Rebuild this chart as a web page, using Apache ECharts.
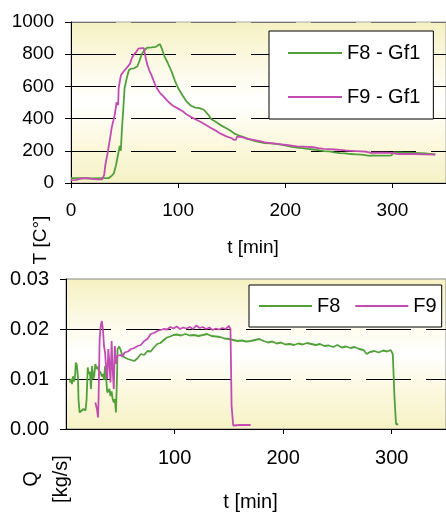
<!DOCTYPE html>
<html>
<head>
<meta charset="utf-8">
<script src="https://cdn.jsdelivr.net/npm/echarts@6/dist/echarts.min.js"></script>
<style>
  html, body { margin: 0; padding: 0; background: #fff; }
  #chart { width: 446px; height: 513px; }
</style>
</head>
<body>
<div id="chart"></div>
<script>
// temperature curves, t [min] / T [C°]
var tF8 = [0, 10, 20, 30, 35, 38, 40, 42, 44, 45.5, 46.5, 47.5, 49, 50, 52, 54, 56, 59, 62, 64, 66, 68, 71, 75, 79, 81, 83, 84.5, 87, 90, 94, 97, 100, 104, 108, 112, 116, 120, 124, 128, 131, 135, 140, 145, 149, 153, 157, 161, 166, 171, 176, 181, 186, 191, 196, 201, 206, 211, 216, 221, 226, 231, 236, 241, 246, 251, 256, 261, 266, 271, 276, 279, 281, 286, 291, 296, 299, 301, 306, 311, 316, 321, 326, 331, 336, 340]
var TF8 = [30, 30, 28, 30, 30, 45, 60, 110, 180, 230, 200, 330, 480, 590, 650, 700, 710, 712, 725, 760, 800, 820, 840, 842, 845, 855, 862, 840, 790, 750, 690, 635, 590, 545, 505, 480, 468, 465, 455, 425, 396, 380, 358, 340, 324, 305, 295, 285, 272, 262, 254, 248, 246, 243, 238, 232, 224, 220, 216, 212, 208, 204, 198, 196, 190, 186, 184, 180, 178, 176, 172, 168, 171, 170, 170, 170, 171, 190, 190, 189, 188, 187, 186, 184, 180, 178]
var tF9 = [0, 5, 10, 15, 20, 25, 29, 31, 32, 34, 35, 37, 38, 40, 41, 42.5, 43.5, 44, 44.5, 46, 47, 50, 52, 55, 57, 59, 61, 63, 66, 68, 69, 71, 73, 75, 78, 80, 83, 86, 90, 95, 100, 104, 108, 113, 118, 122, 126, 131, 136, 140, 145, 150, 152, 154, 155, 160, 164, 170, 176, 181, 186, 191, 196, 201, 206, 211, 216, 221, 226, 231, 236, 241, 246, 251, 256, 261, 266, 271, 276, 279, 286, 296, 301, 305, 311, 320, 330, 340]
var TF9 = [18, 20, 28, 30, 25, 22, 22, 50, 110, 180, 220, 300, 345, 400, 430, 500, 510, 485, 590, 650, 675, 700, 715, 740, 780, 800, 815, 835, 838, 838, 800, 740, 700, 672, 620, 590, 560, 540, 510, 480, 462, 447, 425, 406, 390, 376, 360, 340, 322, 305, 290, 278, 268, 270, 288, 285, 275, 268, 260, 252, 248, 244, 240, 236, 232, 228, 226, 224, 222, 216, 212, 210, 208, 206, 202, 200, 198, 196, 194, 188, 188, 188, 186, 180, 180, 180, 178, 176]

// mass flow, t [min] / Q [kg/s]
var qtF8 = [3.5, 4.5, 5.5, 6.5, 7.5, 8.5, 9, 10, 11, 11.5, 12.5, 14, 16, 18, 19, 20, 21, 22, 23, 24, 25, 26, 27, 28, 29, 30, 31, 32, 33, 34, 35, 36, 37, 38, 40, 41, 42, 43, 44, 45, 46, 47, 47.5, 49, 50, 52, 54, 57, 60, 63, 66, 69, 72, 75, 78, 81, 84, 87, 90, 93, 96, 99, 102, 106, 110, 114, 118, 122, 126, 130, 134, 138, 142, 146, 150, 154, 158, 162, 166, 170, 174, 178, 182, 186, 190, 194, 198, 202, 206, 210, 214, 218, 222, 226, 230, 234, 238, 242, 246, 250, 254, 258, 262, 266, 270, 274, 277, 280, 284, 288, 292, 296, 299, 301, 302, 302.5, 303.5, 304, 306]
var qF8 = [0.0093, 0.0100, 0.0090, 0.0105, 0.0095, 0.0110, 0.0133, 0.0128, 0.0105, 0.0060, 0.0033, 0.0036, 0.0040, 0.0037, 0.0060, 0.0123, 0.0110, 0.0115, 0.0080, 0.0126, 0.0100, 0.0106, 0.0130, 0.0120, 0.0125, 0.0118, 0.0120, 0.0112, 0.0105, 0.0110, 0.0098, 0.0126, 0.0100, 0.0073, 0.0080, 0.0066, 0.0075, 0.0060, 0.0053, 0.0060, 0.0033, 0.0106, 0.0160, 0.0165, 0.0160, 0.0146, 0.0143, 0.0140, 0.0138, 0.0136, 0.0142, 0.0150, 0.0148, 0.0156, 0.0155, 0.0163, 0.0170, 0.0172, 0.0178, 0.0183, 0.0185, 0.0188, 0.0189, 0.0187, 0.0190, 0.0187, 0.0188, 0.0186, 0.0188, 0.0190, 0.0186, 0.0185, 0.0184, 0.0181, 0.0180, 0.0178, 0.0176, 0.0177, 0.0175, 0.0176, 0.0178, 0.0180, 0.0176, 0.0173, 0.0175, 0.0171, 0.0173, 0.0169, 0.0170, 0.0168, 0.0171, 0.0169, 0.0172, 0.0170, 0.0168, 0.0170, 0.0166, 0.0167, 0.0164, 0.0168, 0.0163, 0.0165, 0.0162, 0.0164, 0.0160, 0.0158, 0.0150, 0.0154, 0.0156, 0.0153, 0.0157, 0.0155, 0.0158, 0.0150, 0.0146, 0.0066, 0.0027, 0.0010, 0.0009]
var qtF9 = [27, 28.5, 29.5, 30, 31, 32, 33, 34, 35, 36, 37, 38, 39, 40, 41, 42, 43, 44, 45, 46, 47, 48, 50, 52, 54, 57, 60, 63, 66, 69, 72, 75, 78, 81, 84, 87, 90, 93, 96, 99, 102, 105, 108, 111, 114, 117, 120, 123, 126, 129, 132, 135, 138, 141, 144, 147, 150, 151.5, 152.5, 154, 160, 170]
var qF9 = [0.0053, 0.0040, 0.0023, 0.0060, 0.0180, 0.0206, 0.0216, 0.0200, 0.0166, 0.0153, 0.0120, 0.0100, 0.0160, 0.0130, 0.0093, 0.0176, 0.0120, 0.0080, 0.0166, 0.0130, 0.0146, 0.0150, 0.0148, 0.0145, 0.0153, 0.0155, 0.0160, 0.0162, 0.0166, 0.0168, 0.0176, 0.0180, 0.0190, 0.0192, 0.0196, 0.0198, 0.0200, 0.0199, 0.0204, 0.0201, 0.0205, 0.0200, 0.0203, 0.0201, 0.0204, 0.0200, 0.0207, 0.0202, 0.0204, 0.0200, 0.0203, 0.0198, 0.0201, 0.0199, 0.0202, 0.0200, 0.0206, 0.0200, 0.0047, 0.0007, 0.0008, 0.0008]

var green = '#52a03c'
var magenta = '#c24cb2'
var font = '"Liberation Sans", Arial, sans-serif'
var lineIcon = 'path://M0,0H54V2H0Z'

function pairs(xs, ys) {
  return xs.map(function(x, i) { return [x, ys[i]] })
}

function bg() {
  return new echarts.graphic.LinearGradient(0, 0, 0, 1, [
    { offset: 0, color: '#f6f1c2' },
    { offset: 0.35, color: '#fdfcef' },
    { offset: 0.5, color: '#ffffff' },
    { offset: 0.7, color: '#fcfae4' },
    { offset: 1, color: '#f6f1c4' }
  ])
}

var chart = echarts.init(document.getElementById('chart'))

var xAxisBase = {
  type: 'value',
  min: 0,
  max: 350,
  interval: 100,
  axisLine: { lineStyle: { color: '#000', width: 1 } },
  axisTick: { length: 5, lineStyle: { color: '#000' } },
  splitLine: { show: false },
  nameLocation: 'middle'
}

chart.setOption({
  backgroundColor: '#fff',
  animation: false,
  grid: [
    { left: 71, top: 22, width: 387, height: 161, show: true, backgroundColor: bg(), borderColor: '#a8a8a8', borderWidth: 1 },
    { left: 66, top: 279, width: 393, height: 151, show: true, backgroundColor: bg(), borderColor: '#8a8a8a', borderWidth: 1 }
  ],
  xAxis: [
    Object.assign({}, xAxisBase, {
      gridIndex: 0,
      name: 't [min]',
      nameGap: 55,
      nameTextStyle: { color: '#000', fontSize: 19, fontFamily: font, padding: [0, 11, 0, 0] },
      axisLabel: { color: '#000', fontSize: 19, fontFamily: font, margin: 18, showMaxLabel: false }
    }),
    Object.assign({}, xAxisBase, {
      gridIndex: 1,
      name: 't [min]',
      nameGap: 63,
      nameTextStyle: { color: '#000', fontSize: 20, fontFamily: font, padding: [0, 11, 0, 0] },
      axisLabel: { color: '#000', fontSize: 20, fontFamily: font, margin: 19, showMinLabel: false, showMaxLabel: false }
    })
  ],
  yAxis: [
    {
      type: 'value',
      gridIndex: 0,
      min: 0,
      max: 1000,
      interval: 200,
      axisLine: { show: true, lineStyle: { color: '#000', width: 1 } },
      axisTick: { show: true, length: 6, lineStyle: { color: '#000' } },
      axisLabel: {
        color: '#000', fontSize: 19, fontFamily: font, margin: 17,
        formatter: function(v) { return String(v) }
      },
      splitLine: {
        show: true,
        lineStyle: { color: ['#000', '#000', '#000', '#000', '#000', '#707070'], type: [45, 15], width: 1 }
      }
    },
    {
      type: 'value',
      gridIndex: 1,
      min: 0,
      max: 0.03,
      interval: 0.01,
      axisLine: { show: true, lineStyle: { color: '#000', width: 1 } },
      axisTick: { show: true, length: 6, lineStyle: { color: '#000' } },
      axisLabel: {
        color: '#000', fontSize: 20, fontFamily: font, margin: 17,
        formatter: function(v) { return v.toFixed(2) }
      },
      splitLine: {
        show: true,
        lineStyle: { color: ['#000', '#000', '#000', 'rgba(0,0,0,0)'], type: [45, 15], width: 1 }
      }
    }
  ],
  legend: [
    {
      data: [{ name: 'F8 - Gf1', icon: lineIcon }, { name: 'F9 - Gf1', icon: lineIcon }],
      orient: 'vertical',
      left: 269,
      top: 31,
      padding: [12, 13, 12, 19],
      itemGap: 24,
      itemWidth: 54,
      itemHeight: 14,
      backgroundColor: '#fff',
      borderColor: '#000',
      borderWidth: 1,
      borderRadius: 0,
      textStyle: { color: '#000', fontSize: 20, fontFamily: font }
    },
    {
      data: [{ name: 'F8', icon: lineIcon }, { name: 'F9', icon: lineIcon }],
      orient: 'horizontal',
      left: 249,
      top: 285,
      padding: [11, 5, 11, 10],
      itemGap: 15,
      itemWidth: 53,
      itemHeight: 14,
      backgroundColor: '#fff',
      borderColor: '#000',
      borderWidth: 1,
      borderRadius: 0,
      textStyle: { color: '#000', fontSize: 20, fontFamily: font }
    }
  ],
  graphic: [
    {
      type: 'text',
      x: 41, y: 240,
      rotation: Math.PI / 2,
      style: { text: 'T [C°]', fill: '#000', font: '19px ' + font, align: 'center', verticalAlign: 'middle' }
    },
    {
      type: 'text',
      x: 46, y: 479,
      rotation: Math.PI / 2,
      style: { text: 'Q\n[kg/s]', fill: '#000', font: '20px ' + font, align: 'center', verticalAlign: 'middle', lineHeight: 30 }
    }
  ],
  series: [
    { name: 'F8 - Gf1', type: 'line', xAxisIndex: 0, yAxisIndex: 0, symbol: 'none', color: green, lineStyle: { width: 1.8 }, data: pairs(tF8, TF8) },
    { name: 'F9 - Gf1', type: 'line', xAxisIndex: 0, yAxisIndex: 0, symbol: 'none', color: magenta, lineStyle: { width: 1.8 }, data: pairs(tF9, TF9) },
    { name: 'F8', type: 'line', xAxisIndex: 1, yAxisIndex: 1, symbol: 'none', color: green, lineStyle: { width: 1.8 }, data: pairs(qtF8, qF8) },
    { name: 'F9', type: 'line', xAxisIndex: 1, yAxisIndex: 1, symbol: 'none', color: magenta, lineStyle: { width: 1.8 }, data: pairs(qtF9, qF9) }
  ]
})
</script>
</body>
</html>
